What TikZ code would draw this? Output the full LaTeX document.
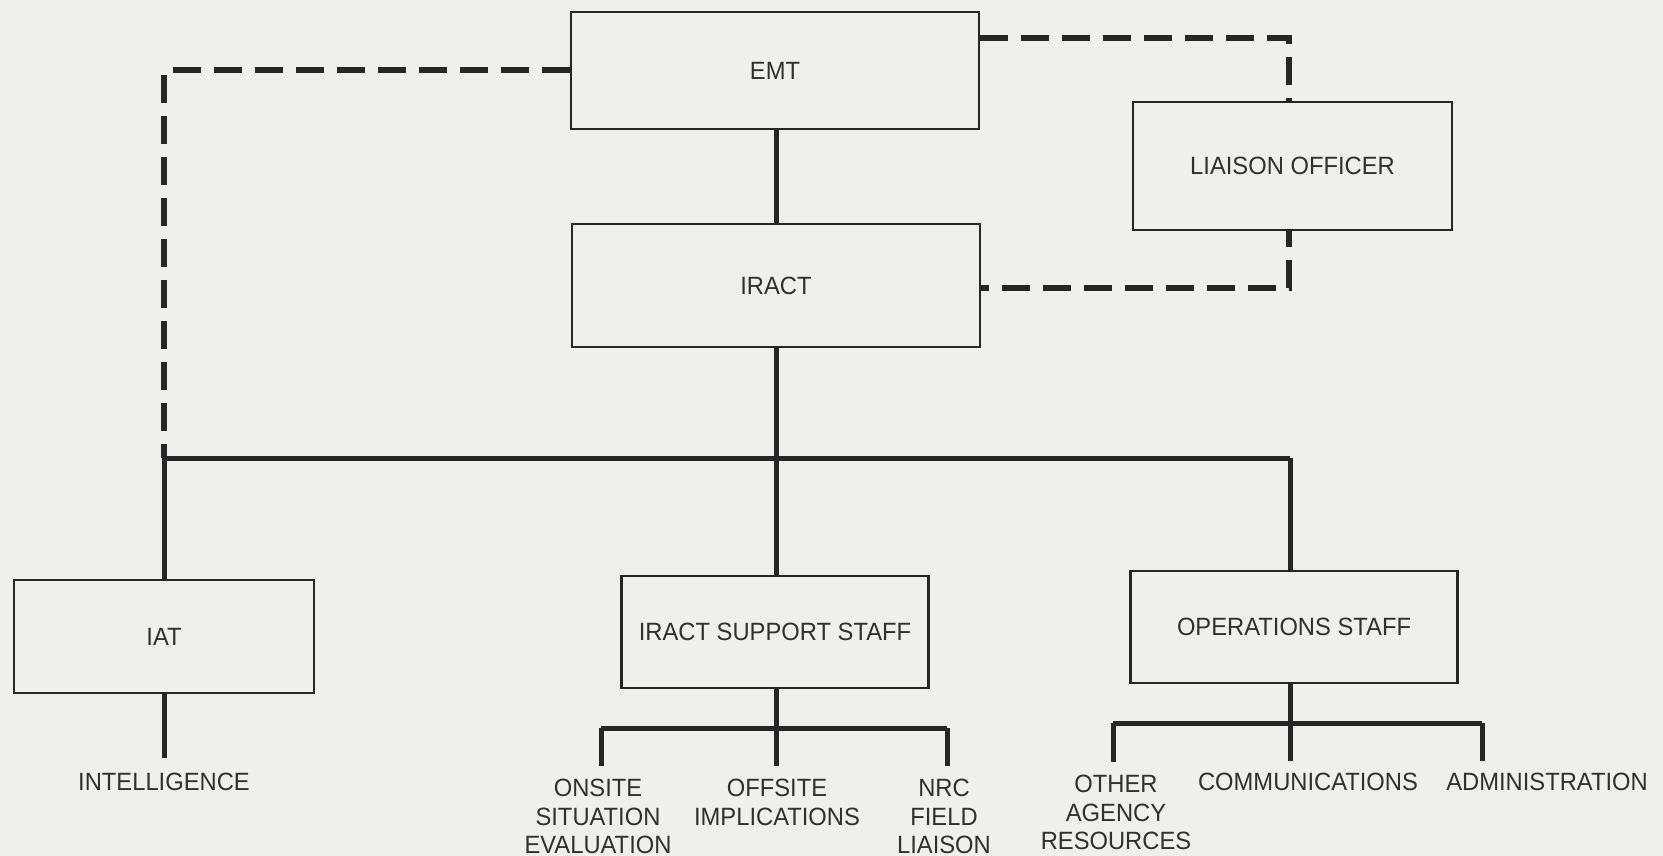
\documentclass[tikz,border=0pt]{standalone}
\usepackage{fontspec}
\setmainfont[FakeStretch=0.95]{Liberation Sans}
\definecolor{paper}{HTML}{EFEFED}
\definecolor{ink}{HTML}{262626}
\definecolor{txt}{HTML}{303030}
\begin{document}
\begin{tikzpicture}[x=1pt,y=-1pt,
  box/.style={draw=ink,line width=2.8pt,fill=none,inner sep=0pt,text=txt,
    font=\fontsize{25}{28}\selectfont},
  conn/.style={draw=ink,line width=5pt},
  dconn/.style={draw=ink,line width=6pt,dash pattern=on 28pt off 13pt},
  lbl/.style={text=txt,inner sep=0pt,anchor=north,align=center,
    font=\fontsize{25}{28.5}\selectfont}]
\useasboundingbox[fill=paper] (0,0) rectangle (1663,856);
% boxes
\node[box,minimum width=408pt,minimum height=117pt] (emt) at (775,70.5) {EMT};
\node[box,minimum width=408pt,minimum height=123pt] (iract) at (776,285.5) {IRACT};
\node[box,minimum width=319pt,minimum height=128pt] (liaison) at (1292.5,166) {LIAISON OFFICER};
\node[box,minimum width=300pt,minimum height=113pt] (iat) at (164,636.5) {IAT};
\node[box,minimum width=307pt,minimum height=112pt] (support) at (775,632) {IRACT SUPPORT STAFF};
\node[box,minimum width=327pt,minimum height=112pt] (ops) at (1294,627) {OPERATIONS STAFF};
% coordinates
\coordinate (busL) at (164,458);
\coordinate (busR) at (1290,458);
\coordinate (dTL) at (164,70.5);
\coordinate (dTR) at (1289,38);
\coordinate (dBR) at (1289,288);
\coordinate (sbL) at (601,728);
\coordinate (sbR) at (947,728);
\coordinate (obL) at (1113,723);
\coordinate (obR) at (1482,723);
% labels
\node[lbl] (intel) at (164,773) {INTELLIGENCE};
\node[lbl] (onsite) at (598,779) {ONSITE\\SITUATION\\EVALUATION};
\node[lbl] (offsite) at (777,779) {OFFSITE\\IMPLICATIONS};
\node[lbl] (nrc) at (944,779) {NRC\\FIELD\\LIAISON};
\node[lbl] (other) at (1116,775) {OTHER\\AGENCY\\RESOURCES};
\node[lbl] (comm) at (1308,773) {COMMUNICATIONS};
\node[lbl] (admin) at (1547,773) {ADMINISTRATION};
% solid connectors
\draw[conn] (emt.south -| iract.north) -- (iract.north);
\draw[conn] (iract.south) -- (iract.south |- support.north);
\draw[conn] (busL) -- (busR);
\draw[conn] (busL) -- (iat.north);
\draw[conn] (busR) -- (busR |- ops.north);
\draw[conn] (iat.south) -- ([yshift=15pt]intel.north);
% support sub-bus
\draw[conn] (sbL) -- (sbR);
\draw[conn] (sbL) -- ([yshift=13pt]onsite.north -| sbL);
\draw[conn] (sbR) -- ([yshift=13pt]nrc.north -| sbR);
\draw[conn] (support.south -| iract.south) -- ([yshift=13pt]offsite.north -| iract.south);
% ops sub-bus
\draw[conn] (obL) -- (obR);
\draw[conn] (obL) -- ([yshift=13pt]other.north -| obL);
\draw[conn] (obR) -- ([yshift=12pt]admin.north -| obR);
\draw[conn] (ops.south -| busR) -- ([yshift=12pt]comm.north -| busR);
% dashed connectors
\draw[dconn] (emt.west) -- (dTL) -- (busL);
\draw[dconn] (dTR -| emt.east) -- (dTR) -- (dTR |- liaison.north);
\draw[dconn,dash phase=12pt] (liaison.south -| dBR) -- (dBR) -- (dBR -| iract.east);
\end{tikzpicture}
\end{document}
